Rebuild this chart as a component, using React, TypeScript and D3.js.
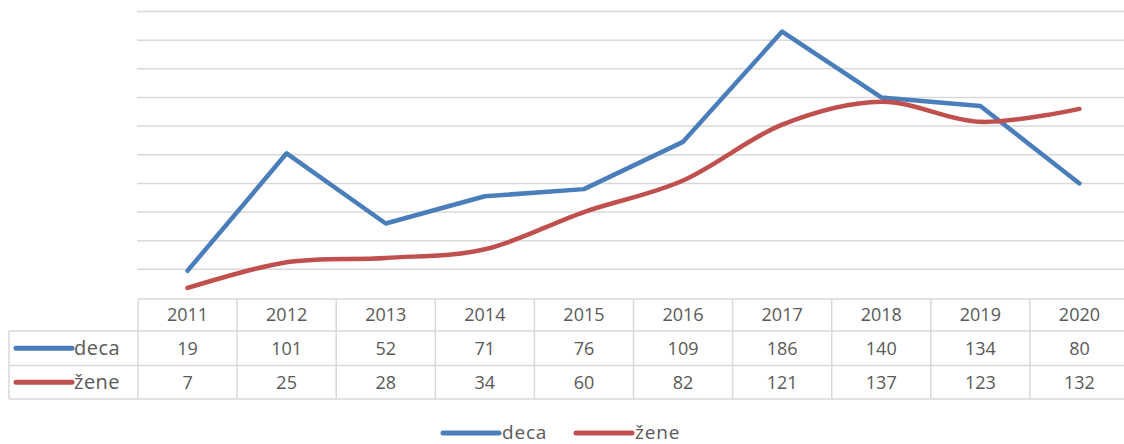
import React from "react";
import * as d3 from "d3";

const years = ["2011", "2012", "2013", "2014", "2015", "2016", "2017", "2018", "2019", "2020"];
const deca = [19, 101, 52, 71, 76, 109, 186, 140, 134, 80];
const zene = [7, 25, 28, 34, 60, 82, 121, 137, 123, 132];
const yTicks = [0, 20, 40, 60, 80, 100, 120, 140, 160, 180, 200];

const BLUE = "#4a7ebb";
const RED = "#c0504d";
const GRID = "#d9d9d9";
const TEXT = "#595959";
const FONT = "'Open Sans', 'DejaVu Sans', sans-serif";

const W = 1124;
const H = 444;
const left = 138;
const colW = 99.1;

const App: React.FC = () => {
  const x = d3.scaleBand<string>()
    .domain(years)
    .range([left, left + colW * years.length]);
  const y = d3.scaleLinear().domain([0, 200]).range([298, 11.5]);
  const cx = (yr: string) => (x(yr) || 0) + x.bandwidth() / 2;

  const line = d3.line<number>()
    .x((_, i) => cx(years[i]))
    .y(d => y(d));
  // excel "smoothed line" ~ uniform catmull-rom
  const smooth = d3.line<number>()
    .x((_, i) => cx(years[i]))
    .y(d => y(d))
    .curve(d3.curveCatmullRom.alpha(0));

  const right = left + colW * years.length;
  const rowTop = 299;
  const rowH = [32, 34.5, 33.5];
  const r1 = rowTop + rowH[0];
  const r2 = r1 + rowH[1];
  const r3 = r2 + rowH[2];

  const rows = [
    { name: "deca", values: deca, color: BLUE, top: r1, h: rowH[1] },
    { name: "žene", values: zene, color: RED, top: r2, h: rowH[2] },
  ];

  return (
    <svg width={W} height={H} style={{ position: "absolute", left: 0, top: 0, background: "#fff" }}
      fontFamily={FONT}>
      {/* grid */}
      {yTicks.filter(t => t > 0).map(t => (
        <line key={t} x1={left - 1} x2={right} y1={y(t)} y2={y(t)} stroke={GRID} strokeWidth={1.5} />
      ))}

      {/* data table */}
      <g stroke={GRID} strokeWidth={1.5}>
        <line x1={left} x2={right} y1={rowTop} y2={rowTop} />
        {[r1, r2, r3].map(v => (
          <line key={v} x1={9} x2={right} y1={v} y2={v} />
        ))}
        <line x1={9} x2={9} y1={r1} y2={r3} />
        {years.map(yr => (
          <line key={yr} x1={x(yr)} x2={x(yr)} y1={rowTop} y2={r3} />
        ))}
      </g>
      <g fill={TEXT} fontSize={18} textAnchor="middle">
        {years.map(yr => (
          <text key={yr} x={cx(yr)} y={rowTop + rowH[0] / 2} dy="0.36em">{yr}</text>
        ))}
        {rows.map(r =>
          r.values.map((v, i) => (
            <text key={r.name + i} x={cx(years[i])} y={r.top + r.h / 2} dy="0.36em">{v}</text>
          ))
        )}
      </g>
      {rows.map(r => (
        <g key={r.name}>
          <line x1={16} x2={72} y1={r.top + r.h / 2} y2={r.top + r.h / 2}
            stroke={r.color} strokeWidth={5} strokeLinecap="round" />
          <text x={74} y={r.top + r.h / 2} dy="0.34em" fill={TEXT} fontSize={20} letterSpacing={0.5}>{r.name}</text>
        </g>
      ))}

      {/* series */}
      <path d={line(deca) || ""} fill="none" stroke={BLUE} strokeWidth={4.5}
        strokeLinecap="round" strokeLinejoin="round" />
      <path d={smooth(zene) || ""} fill="none" stroke={RED} strokeWidth={4.5}
        strokeLinecap="round" strokeLinejoin="round" />

      {/* legend */}
      {rows.map((r, i) => {
        const lx = 443 + i * 133;
        return (
          <g key={r.name}>
            <line x1={lx} x2={lx + 56} y1={433} y2={433} stroke={r.color} strokeWidth={5} strokeLinecap="round" />
            <text x={lx + 59} y={433} dy="0.32em" fill={TEXT} fontSize={19} letterSpacing={0.8}>{r.name}</text>
          </g>
        );
      })}
    </svg>
  );
};

export default App;
